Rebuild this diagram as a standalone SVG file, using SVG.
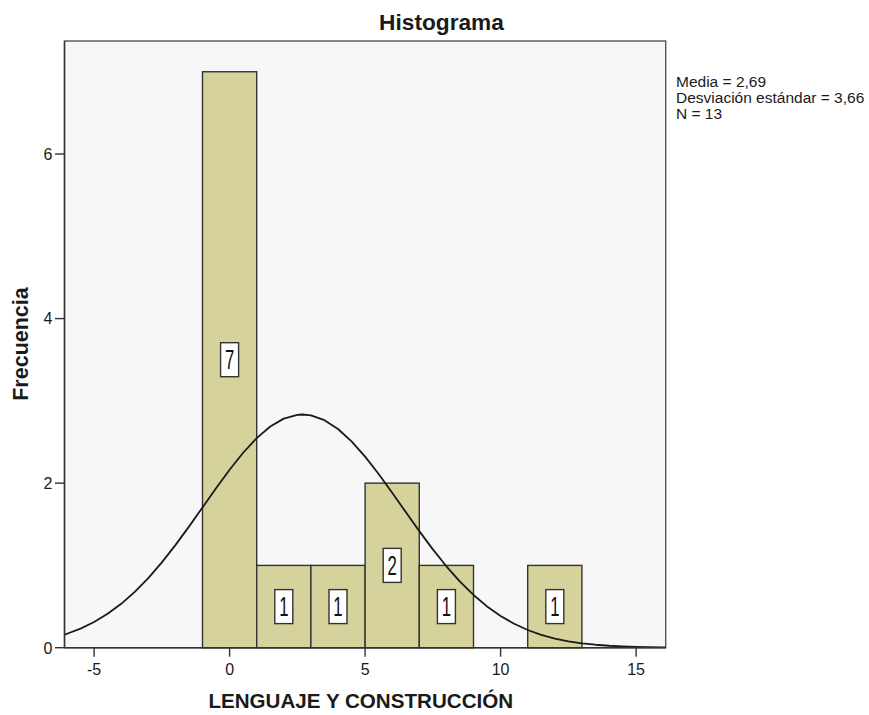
<svg xmlns="http://www.w3.org/2000/svg" width="869" height="715" viewBox="0 0 869 715">
<defs>
<style>
.t{font-family:"Liberation Sans",Arial,sans-serif;fill:#1a1a1a}
.tick{font-size:16px}
.bar{fill:#d6d29b;stroke:#333;stroke-width:1.4}
.lbl{fill:#fff;stroke:#333;stroke-width:1.4}
.dg{font-family:"Liberation Sans",Arial,sans-serif;font-size:27px;fill:#111;text-anchor:middle}
.ax{stroke:#333;stroke-width:1.4;fill:none}
</style>
<clipPath id="plotclip"><rect x="64.5" y="41" width="601.2" height="606.7"/></clipPath>
</defs>
<rect width="869" height="715" fill="#fff"/>
<g id="plot-area">
<rect x="64.5" y="41" width="601.2" height="606.7" fill="#f7f7f7" stroke="#555" stroke-width="1.4"/>
</g>
<g id="bars">
<rect class="bar" x="202.5" y="71.74" width="54.2" height="575.96"/>
<rect class="bar" x="256.7" y="565.42" width="54.2" height="82.28"/>
<rect class="bar" x="310.9" y="565.42" width="54.2" height="82.28"/>
<rect class="bar" x="365.1" y="483.14" width="54.2" height="164.56"/>
<rect class="bar" x="419.3" y="565.42" width="54.2" height="82.28"/>
<rect class="bar" x="527.7" y="565.42" width="54.2" height="82.28"/>
</g>
<g id="bar-labels">
<rect class="lbl" x="220.6" y="342.7" width="18" height="34"/>
<text class="dg" transform="translate(229.6,369.4) scale(0.62,1)">7</text>
<rect class="lbl" x="274.8" y="589.6" width="18" height="34"/>
<text class="dg" transform="translate(283.8,616.3) scale(0.62,1)">1</text>
<rect class="lbl" x="329" y="589.6" width="18" height="34"/>
<text class="dg" transform="translate(338,616.3) scale(0.62,1)">1</text>
<rect class="lbl" x="383.2" y="548.4" width="18" height="34"/>
<text class="dg" transform="translate(392.2,575.1) scale(0.62,1)">2</text>
<rect class="lbl" x="437.4" y="589.6" width="18" height="34"/>
<text class="dg" transform="translate(446.4,616.3) scale(0.62,1)">1</text>
<rect class="lbl" x="545.8" y="589.6" width="18" height="34"/>
<text class="dg" transform="translate(554.8,616.3) scale(0.62,1)">1</text>
</g>
<g id="normal-curve" clip-path="url(#plotclip)">
<polyline fill="none" stroke="#1a1a1a" stroke-width="1.8" stroke-linejoin="round" points="64.29,634.66 67.0,633.78 80.55,628.63 94.1,622.05 107.65,613.84 121.2,603.83 134.75,591.91 148.3,578.06 161.85,562.38 175.4,545.10 188.95,526.61 202.5,507.42 216.05,488.21 229.6,469.72 243.15,452.74 256.7,438.10 270.25,426.52 283.8,418.63 297.35,414.83 302.5,414.52 310.9,415.35 324.45,420.16 338.0,428.99 351.55,441.36 365.1,456.63 378.65,474.05 392.2,492.80 405.75,512.07 419.3,531.14 432.85,549.38 446.4,566.30 459.95,581.55 473.5,594.94 487.05,606.40 500.6,615.97 514.15,623.77 527.7,629.99 541.25,634.83 554.8,638.52 568.35,641.28 581.9,643.29 595.45,644.73 609.0,645.73 622.55,646.42 636.1,646.89 649.65,647.19 663.2,647.39 668.6,647.44"/>
</g>
<g id="axes">
<line class="ax" x1="64.5" y1="41" x2="64.5" y2="647.7"/>
<line class="ax" x1="64.5" y1="647.7" x2="665.7" y2="647.7"/>
<line class="ax" x1="55" y1="647.7" x2="64.5" y2="647.7"/>
<line class="ax" x1="55" y1="483.14" x2="64.5" y2="483.14"/>
<line class="ax" x1="55" y1="318.58" x2="64.5" y2="318.58"/>
<line class="ax" x1="55" y1="154.02" x2="64.5" y2="154.02"/>
<line class="ax" x1="94.1" y1="647.7" x2="94.1" y2="656.7"/>
<line class="ax" x1="229.6" y1="647.7" x2="229.6" y2="656.7"/>
<line class="ax" x1="365.1" y1="647.7" x2="365.1" y2="656.7"/>
<line class="ax" x1="500.6" y1="647.7" x2="500.6" y2="656.7"/>
<line class="ax" x1="636.1" y1="647.7" x2="636.1" y2="656.7"/>
<g class="t tick" text-anchor="end">
<text x="52.5" y="653.5">0</text>
<text x="52.5" y="489">2</text>
<text x="52.5" y="324.4">4</text>
<text x="52.5" y="159.8">6</text>
</g>
<g class="t tick" text-anchor="middle">
<text x="94.1" y="674.5">-5</text>
<text x="229.6" y="674.5">0</text>
<text x="365.1" y="674.5">5</text>
<text x="500.6" y="674.5">10</text>
<text x="636.1" y="674.5">15</text>
</g>
</g>
<g id="titles">
<text class="t" x="441.5" y="29.5" font-size="22.7" font-weight="bold" text-anchor="middle">Histograma</text>
<text class="t" x="360.8" y="707.7" font-size="20.6" font-weight="bold" text-anchor="middle">LENGUAJE Y CONSTRUCCIÓN</text>
<text class="t" transform="translate(28.3,344) rotate(-90)" font-size="21.5" font-weight="bold" text-anchor="middle">Frecuencia</text>
</g>
<g id="legend" class="t" font-size="15.5">
<text x="676" y="87.3">Media = 2,69</text>
<text x="676" y="103.3">Desviación estándar = 3,66</text>
<text x="676" y="119.3">N = 13</text>
</g>
</svg>
